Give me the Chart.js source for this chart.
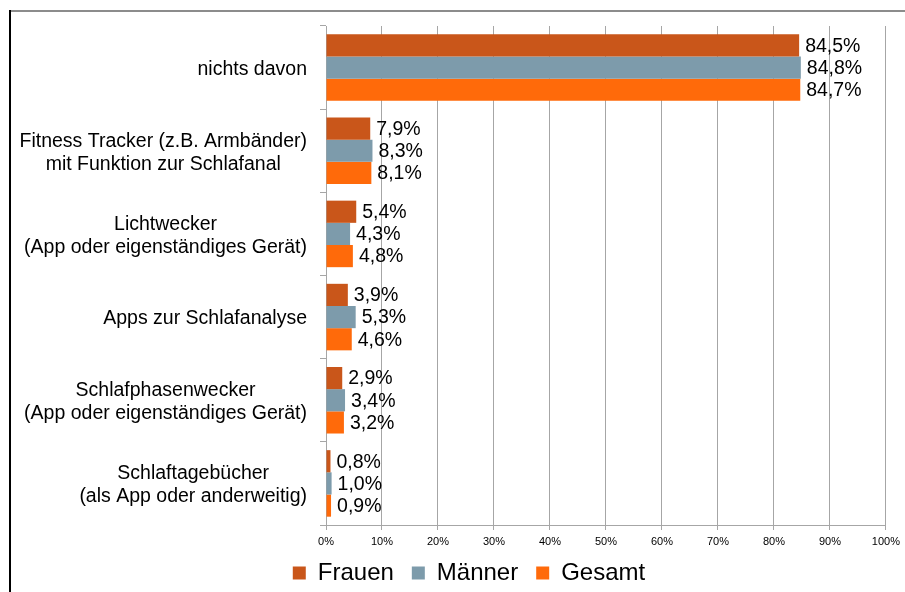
<!DOCTYPE html>
<html>
<head>
<meta charset="utf-8">
<title>Schlaf-Tracking</title>
<script src="https://cdn.jsdelivr.net/npm/chart.js@4.4.0/dist/chart.umd.min.js"></script>
<style>
  html, body { margin: 0; padding: 0; background: #fff; }
  #wrap { width: 905px; height: 592px; position: relative; }
</style>
</head>
<body>
<div id="wrap"><canvas id="chart" width="905" height="592"></canvas></div>
<script>
// categories (multi-line labels) and values in percent
var categories = [
    ['nichts davon'],
    ['Fitness Tracker (z.B. Armbänder)', 'mit Funktion zur Schlafanal'],
    ['Lichtwecker', '(App oder eigenständiges Gerät)'],
    ['Apps zur Schlafanalyse'],
    ['Schlafphasenwecker', '(App oder eigenständiges Gerät)'],
    ['Schlaftagebücher', '(als App oder anderweitig)']
];
var frauen = [84.5, 7.9, 5.4, 3.9, 2.9, 0.8];
var maenner = [84.8, 8.3, 4.3, 5.3, 3.4, 1.0];
var gesamt = [84.7, 8.1, 4.8, 4.6, 3.2, 0.9];
var xTicks = [0, 10, 20, 30, 40, 50, 60, 70, 80, 90, 100];

var FONT = "'Liberation Sans', Arial, sans-serif";

function fmt(v) {
    return v.toFixed(1).replace('.', ',') + '%';
}

// outer frame: black line on the left, grey line on top
var framePlugin = {
    id: 'frame',
    beforeDraw: function (chart) {
        var ctx = chart.ctx;
        ctx.save();
        ctx.fillStyle = '#ffffff';
        ctx.fillRect(0, 0, chart.width, chart.height);
        ctx.fillStyle = '#8c8c8c';
        ctx.fillRect(9, 10, chart.width - 9, 2);
        ctx.fillStyle = '#000000';
        ctx.fillRect(9, 10, 2, chart.height - 10);
        ctx.restore();
    }
};

// legend: fixed height, then nudged a bit right and up
var legendPlugin = {
    id: 'legendFit',
    beforeInit: function (chart) {
        var lg = chart.legend;
        var fit = lg.fit;
        lg.fit = function () {
            fit.call(this);
            this.height = 39;
        };
    },
    afterLayout: function (chart) {
        var lg = chart.legend;
        lg.left += 26; lg.right += 26;
        lg.top -= 10; lg.bottom -= 10;
    }
};

// category labels: block right-aligned, lines centred within the block
var yLabelPlugin = {
    id: 'yLabels',
    afterDraw: function (chart) {
        var ctx = chart.ctx;
        var yScale = chart.scales.y;
        var right = yScale.right - 19;
        ctx.save();
        ctx.font = '19.5px ' + FONT;
        ctx.fillStyle = '#000';
        ctx.textAlign = 'center';
        ctx.textBaseline = 'middle';
        categories.forEach(function (lines, i) {
            var maxW = 0;
            lines.forEach(function (l) { maxW = Math.max(maxW, ctx.measureText(l).width); });
            var cx = right - maxW / 2;
            var cy = yScale.getPixelForValue(i) + 2;
            var lh = 23;
            var top = cy - (lines.length - 1) * lh / 2;
            lines.forEach(function (l, j) { ctx.fillText(l, cx, top + j * lh); });
        });
        ctx.restore();
    }
};

// value labels at the end of each bar
var valuePlugin = {
    id: 'values',
    afterDatasetsDraw: function (chart) {
        var ctx = chart.ctx;
        ctx.save();
        ctx.font = '19.5px ' + FONT;
        ctx.fillStyle = '#000';
        ctx.textAlign = 'left';
        ctx.textBaseline = 'middle';
        chart.data.datasets.forEach(function (ds, d) {
            chart.getDatasetMeta(d).data.forEach(function (bar, i) {
                ctx.fillText(fmt(ds.data[i]), bar.x + 6, bar.y + 1);
            });
        });
        ctx.restore();
    }
};

new Chart(document.getElementById('chart'), {
    type: 'bar',
    data: {
        labels: categories,
        datasets: [
            { label: 'Frauen', data: frauen, backgroundColor: '#c9561a' },
            { label: 'Männer', data: maenner, backgroundColor: '#7d9bab' },
            { label: 'Gesamt', data: gesamt, backgroundColor: '#ff6a0a' }
        ]
    },
    options: {
        indexAxis: 'y',
        responsive: false,
        animation: false,
        devicePixelRatio: 1,
        layout: { padding: { top: 26, right: 19, left: 0, bottom: 0 } },
        datasets: { bar: { barPercentage: 1.0, categoryPercentage: 0.8 } },
        scales: {
            x: {
                min: 0,
                max: 100,
                afterBuildTicks: function (scale) {
                    scale.ticks = xTicks.map(function (v) { return { value: v }; });
                },
                grid: { color: '#a6a6a6', lineWidth: 1, tickLength: 5 },
                border: { color: '#a6a6a6' },
                ticks: {
                    padding: 5,
                    color: '#000',
                    font: { family: FONT, size: 11 },
                    callback: function (v) { return v + '%'; }
                },
                afterFit: function (scale) { scale.height = 28; }
            },
            y: {
                grid: { drawOnChartArea: false, drawTicks: true, tickLength: 6, color: '#a6a6a6', offset: true },
                border: { color: '#a6a6a6' },
                ticks: { display: false },
                afterFit: function (scale) { scale.width = 326; }
            }
        },
        plugins: {
            legend: {
                position: 'bottom',
                labels: {
                    boxWidth: 13,
                    boxHeight: 13,
                    padding: 18,
                    color: '#000',
                    font: { family: FONT, size: 24 }
                }
            },
            tooltip: { enabled: false }
        }
    },
    plugins: [framePlugin, legendPlugin, yLabelPlugin, valuePlugin]
});
</script>
</body>
</html>
